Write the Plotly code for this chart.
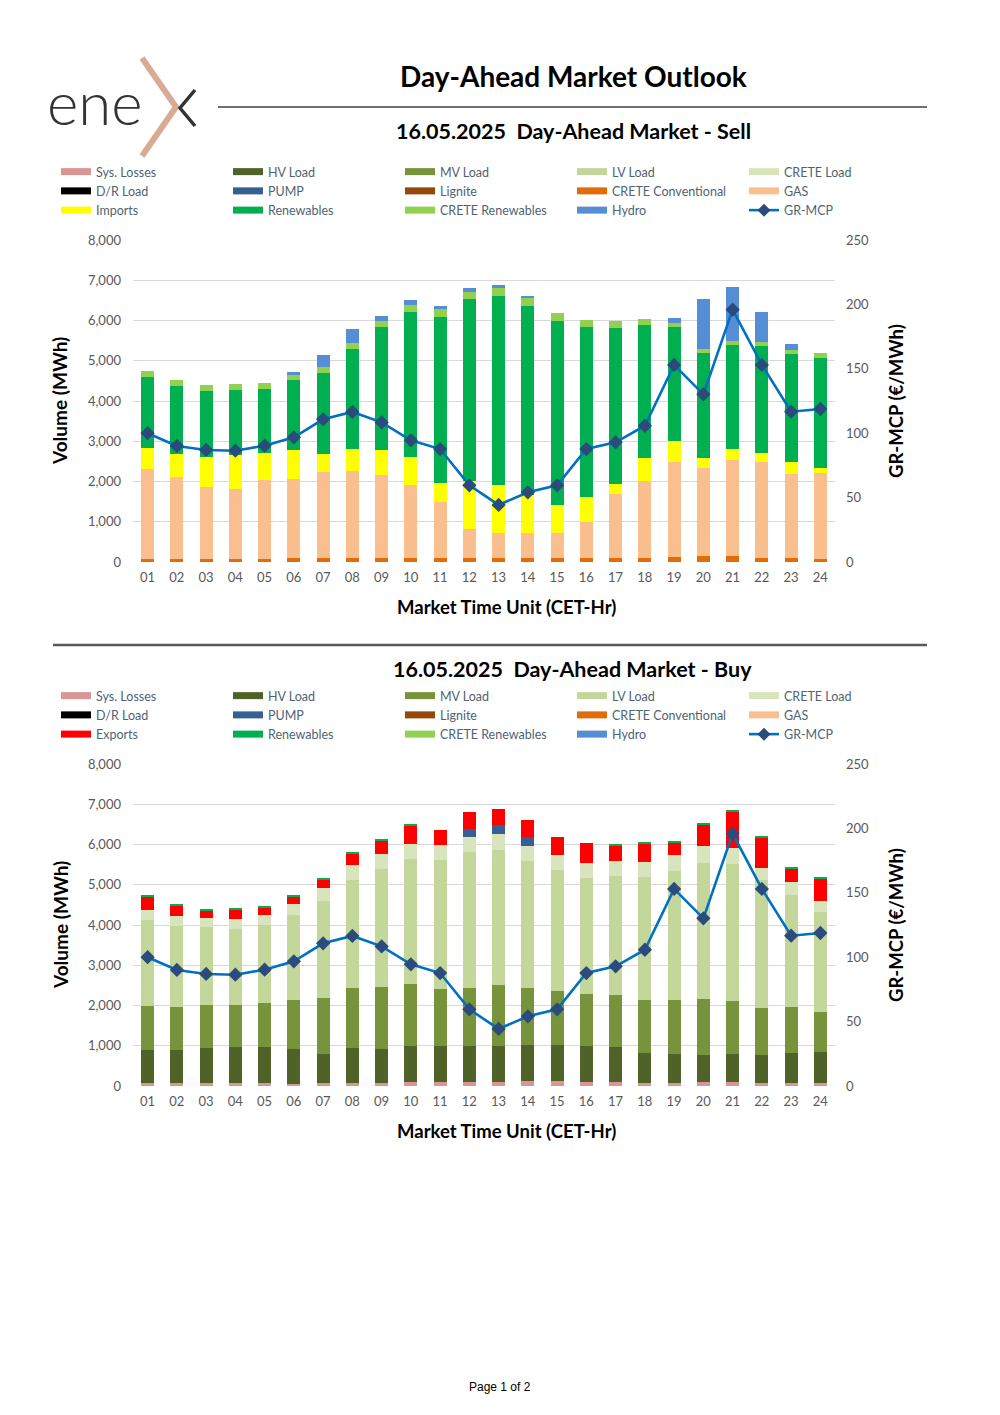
import plotly.graph_objects as go

W, H = 1000, 1415

hours = [f"{h:02d}" for h in range(1, 25)]

# ---- Sell side (MWh) ----
sell_crete_conv = [83, 83, 83, 83, 83, 99, 99, 99, 99, 99, 99, 99, 99, 99, 99, 99, 99, 99, 132, 157, 141, 99, 99, 83]
sell_gas = [2236, 2037, 1772, 1722, 1963, 1971, 2137, 2154, 2062, 1814, 1392, 721, 621, 621, 621, 895, 1599, 1905, 2361, 2178, 2393, 2394, 2096, 2136]
sell_imports = [513, 563, 762, 862, 654, 713, 456, 546, 622, 704, 480, 1184, 1193, 945, 704, 613, 248, 580, 521, 241, 265, 215, 281, 116]
sell_renewables = [1773, 1698, 1631, 1606, 1606, 1739, 2012, 2501, 3056, 3594, 4124, 4522, 4704, 4704, 4564, 4232, 3876, 3304, 2833, 2608, 2601, 2667, 2700, 2742]
sell_crete_ren = [132, 141, 150, 149, 150, 116, 132, 133, 149, 166, 182, 182, 199, 190, 198, 182, 166, 149, 91, 108, 99, 83, 91, 107]
sell_hydro = [0, 0, 0, 0, 0, 82, 299, 347, 124, 124, 83, 91, 58, 50, 0, 0, 0, 0, 124, 1234, 1333, 745, 157, 0]

# ---- Buy side (MWh) ----
buy_sys_losses = [66, 66, 66, 66, 66, 50, 66, 66, 83, 99, 99, 99, 99, 116, 124, 108, 99, 66, 83, 99, 99, 75, 66, 66]
buy_hv_load = [837, 837, 886, 895, 903, 878, 737, 878, 828, 903, 903, 895, 903, 903, 903, 894, 862, 762, 720, 679, 696, 687, 754, 770]
buy_mv_load = [1076, 1060, 1052, 1060, 1093, 1209, 1392, 1491, 1540, 1524, 1408, 1441, 1507, 1408, 1333, 1292, 1308, 1309, 1334, 1392, 1317, 1184, 1134, 1011]
buy_lv_load = [2154, 2020, 1955, 1888, 1946, 2120, 2401, 2691, 2940, 3114, 3205, 3370, 3363, 3171, 2998, 2882, 2957, 3064, 3213, 3379, 3404, 3172, 2800, 2476]
buy_crete_load = [248, 249, 215, 240, 240, 265, 331, 356, 373, 381, 373, 390, 389, 373, 373, 364, 372, 373, 381, 422, 397, 290, 306, 282]
buy_pump = [0, 0, 0, 0, 0, 0, 0, 0, 0, 0, 0, 190, 223, 215, 0, 0, 0, 0, 0, 0, 0, 0, 0, 0]
buy_exports = [331, 248, 190, 240, 191, 182, 208, 282, 323, 455, 381, 431, 398, 431, 455, 489, 381, 447, 315, 530, 903, 770, 340, 538]
buy_renewables = [33, 33, 34, 33, 33, 25, 25, 25, 33, 33, 0, 0, 0, 0, 0, 0, 25, 25, 24, 41, 33, 33, 33, 41]

# ---- Price (EUR/MWh) ----
gr_mcp = [100.0, 90.1, 87.0, 86.4, 90.3, 96.8, 110.8, 116.5, 108.4, 94.5, 87.7, 59.5, 44.3, 54.1, 59.5, 87.7, 92.9, 105.8, 153.0, 130.2, 195.9, 153.0, 116.7, 118.8]

zeros = [0] * 24

legend_names = ["Sys. Losses", "HV Load", "MV Load", "LV Load", "CRETE Load",
                "D/R Load", "PUMP", "Lignite", "CRETE Conventional", "GAS",
                "IMPEXP", "Renewables", "CRETE Renewables", "Hydro"]
colors = {
    "Sys. Losses": "#DA9694", "HV Load": "#4F6228", "MV Load": "#77933C",
    "LV Load": "#C4D79B", "CRETE Load": "#D8E4BC", "D/R Load": "#000000",
    "PUMP": "#366092", "Lignite": "#974706", "CRETE Conventional": "#E26B0A",
    "GAS": "#FABF8F", "Imports": "#FFFF00", "Exports": "#FF0000",
    "Renewables": "#00B050", "CRETE Renewables": "#92D050", "Hydro": "#558ED5",
}
LINE_C = "#0070C0"
MARK_C = "#2A4B7C"

sell_series = {
    "Sys. Losses": zeros, "HV Load": zeros, "MV Load": zeros, "LV Load": zeros,
    "CRETE Load": zeros, "D/R Load": zeros, "PUMP": zeros, "Lignite": zeros,
    "CRETE Conventional": sell_crete_conv, "GAS": sell_gas, "Imports": sell_imports,
    "Renewables": sell_renewables, "CRETE Renewables": sell_crete_ren, "Hydro": sell_hydro,
}
buy_series = {
    "Sys. Losses": buy_sys_losses, "HV Load": buy_hv_load, "MV Load": buy_mv_load,
    "LV Load": buy_lv_load, "CRETE Load": buy_crete_load, "D/R Load": zeros,
    "PUMP": buy_pump, "Lignite": zeros, "CRETE Conventional": zeros, "GAS": zeros,
    "Exports": buy_exports, "Renewables": buy_renewables, "CRETE Renewables": zeros,
    "Hydro": zeros,
}


def px(x):
    return x / W


def py(y):
    return 1 - y / H


fig = go.Figure()


def add_chart(series, xa, ya, ya2, legend_id, impexp):
    names = [impexp if n == "IMPEXP" else n for n in legend_names]
    for n in names:
        fig.add_trace(go.Bar(x=hours, y=series[n], name=n, marker_color=colors[n],
                             marker_line_width=0, xaxis=xa, yaxis=ya, showlegend=False))
    fig.add_trace(go.Scatter(x=hours, y=gr_mcp, name="GR-MCP", mode="lines+markers",
                             line=dict(color=LINE_C, width=2.6),
                             marker=dict(symbol="diamond", size=11, color=MARK_C,
                                         line=dict(width=0)),
                             xaxis=xa, yaxis=ya2, showlegend=False))
    # legend proxies (rectangular swatches)
    for n in names:
        fig.add_trace(go.Scatter(x=[None], y=[None], mode="lines", name=n,
                                 line=dict(color=colors[n], width=7),
                                 xaxis=xa, yaxis=ya, legend=legend_id))
    fig.add_trace(go.Scatter(x=[None], y=[None], mode="lines+markers", name="GR-MCP",
                             line=dict(color=LINE_C, width=2.6),
                             marker=dict(symbol="diamond", size=10, color=MARK_C),
                             xaxis=xa, yaxis=ya2, legend=legend_id))


add_chart(sell_series, "x", "y", "y2", "legend", "Imports")
add_chart(buy_series, "x2", "y3", "y4", "legend2", "Exports")

TICK_C = "#595959"
FONT = "Lato"
xdom = [px(133), px(835)]
sell_dom = [py(562), py(240)]
buy_dom = [py(1086), py(764)]

xcommon = dict(type="category", domain=xdom, range=[-0.5, 23.5], autorange=False,
               showgrid=False, showline=False, ticks="",
               tickfont=dict(family=FONT, size=13, color=TICK_C), ticklabelstandoff=6,
               fixedrange=True, automargin=False)
ycommon = dict(range=[0, 8000], autorange=False, dtick=1000, tickformat=",", showgrid=True,
               gridcolor="#D9D9D9", gridwidth=1, zeroline=False, showline=False, ticks="",
               tickfont=dict(family=FONT, size=13, color=TICK_C), ticklabelstandoff=11,
               automargin=False)
y2common = dict(range=[0, 250], autorange=False, dtick=50, showgrid=False, zeroline=False,
                showline=False, ticks="", side="right",
                tickfont=dict(family=FONT, size=13, color=TICK_C), ticklabelstandoff=10,
                automargin=False)

leg_common = dict(orientation="h", xanchor="left", yanchor="top", entrywidth=127,
                  entrywidthmode="pixels", itemwidth=30, traceorder="normal",
                  font=dict(family=FONT, size=12.5, color="#4F6373"),
                  bgcolor="rgba(0,0,0,0)", itemclick=False, itemdoubleclick=False)

fig.update_layout(
    width=W, height=H, margin=dict(l=0, r=0, t=0, b=0, autoexpand=False),
    paper_bgcolor="white", plot_bgcolor="white",
    barmode="stack", bargap=0.556,
    xaxis=dict(anchor="y", **xcommon),
    yaxis=dict(domain=sell_dom, anchor="x", **ycommon),
    yaxis2=dict(overlaying="y", anchor="x", **y2common),
    xaxis2=dict(anchor="y3", **xcommon),
    yaxis3=dict(domain=buy_dom, anchor="x2", **ycommon),
    yaxis4=dict(overlaying="y3", anchor="x2", **y2common),
    legend=dict(x=px(56), y=py(157), **leg_common),
    legend2=dict(x=px(56), y=py(681), **leg_common),
    showlegend=True,
)

ann = []


def text(x, y, s, size, bold=False, color="#000000", angle=0, family=FONT,
         xanchor="center", weight=None):
    f = dict(family=family, size=size, color=color)
    if weight is not None:
        f["weight"] = weight
    elif bold:
        f["weight"] = "bold"
    ann.append(dict(x=px(x), y=py(y), xref="paper", yref="paper", text=s, showarrow=False,
                    font=f, textangle=angle, xanchor=xanchor, yanchor="middle"))


text(573, 76, "Day-Ahead Market Outlook", 28, bold=True)
text(573, 131, "16.05.2025&nbsp;&nbsp;Day-Ahead Market - Sell", 21.5, bold=True)
text(572, 669, "16.05.2025&nbsp;&nbsp;Day-Ahead Market - Buy", 21.5, bold=True)
for yc, xt in [(401, 607), (925, 1131)]:
    text(60, yc, "Volume (MWh)", 19, bold=True, angle=-90)
    text(896, yc, "GR-MCP (€/MWh)", 18.5, bold=True, angle=-90)
    text(506, xt, "Market Time Unit (CET-Hr)", 18.5, bold=True)
text(500, 1387, "Page 1 of 2", 12, family="Liberation Sans")
# logo text
text(45, 102, "ene", 60, color="#333333", xanchor="left", weight=300, family="Lato")

shapes = [
    dict(type="line", xref="paper", yref="paper", x0=px(218), x1=px(927), y0=py(107), y1=py(107),
         line=dict(color="#404040", width=1.5)),
    dict(type="line", xref="paper", yref="paper", x0=px(53), x1=px(927), y0=py(645), y1=py(645),
         line=dict(color="#595959", width=2.5)),
    dict(type="path", xref="paper", yref="paper",
         path=f"M {px(142)},{py(58)} L {px(176)},{py(107)} L {px(142)},{py(156)}",
         line=dict(color="#D8AC94", width=6)),
    dict(type="path", xref="paper", yref="paper",
         path=f"M {px(195)},{py(90)} L {px(180)},{py(108)} L {px(195)},{py(126)}",
         line=dict(color="#333333", width=3.5)),
]

fig.update_layout(annotations=ann, shapes=shapes)

fig.write_html("out.html", config={"displayModeBar": False},
               post_script="document.body.style.margin='0';document.body.style.padding='0';")
